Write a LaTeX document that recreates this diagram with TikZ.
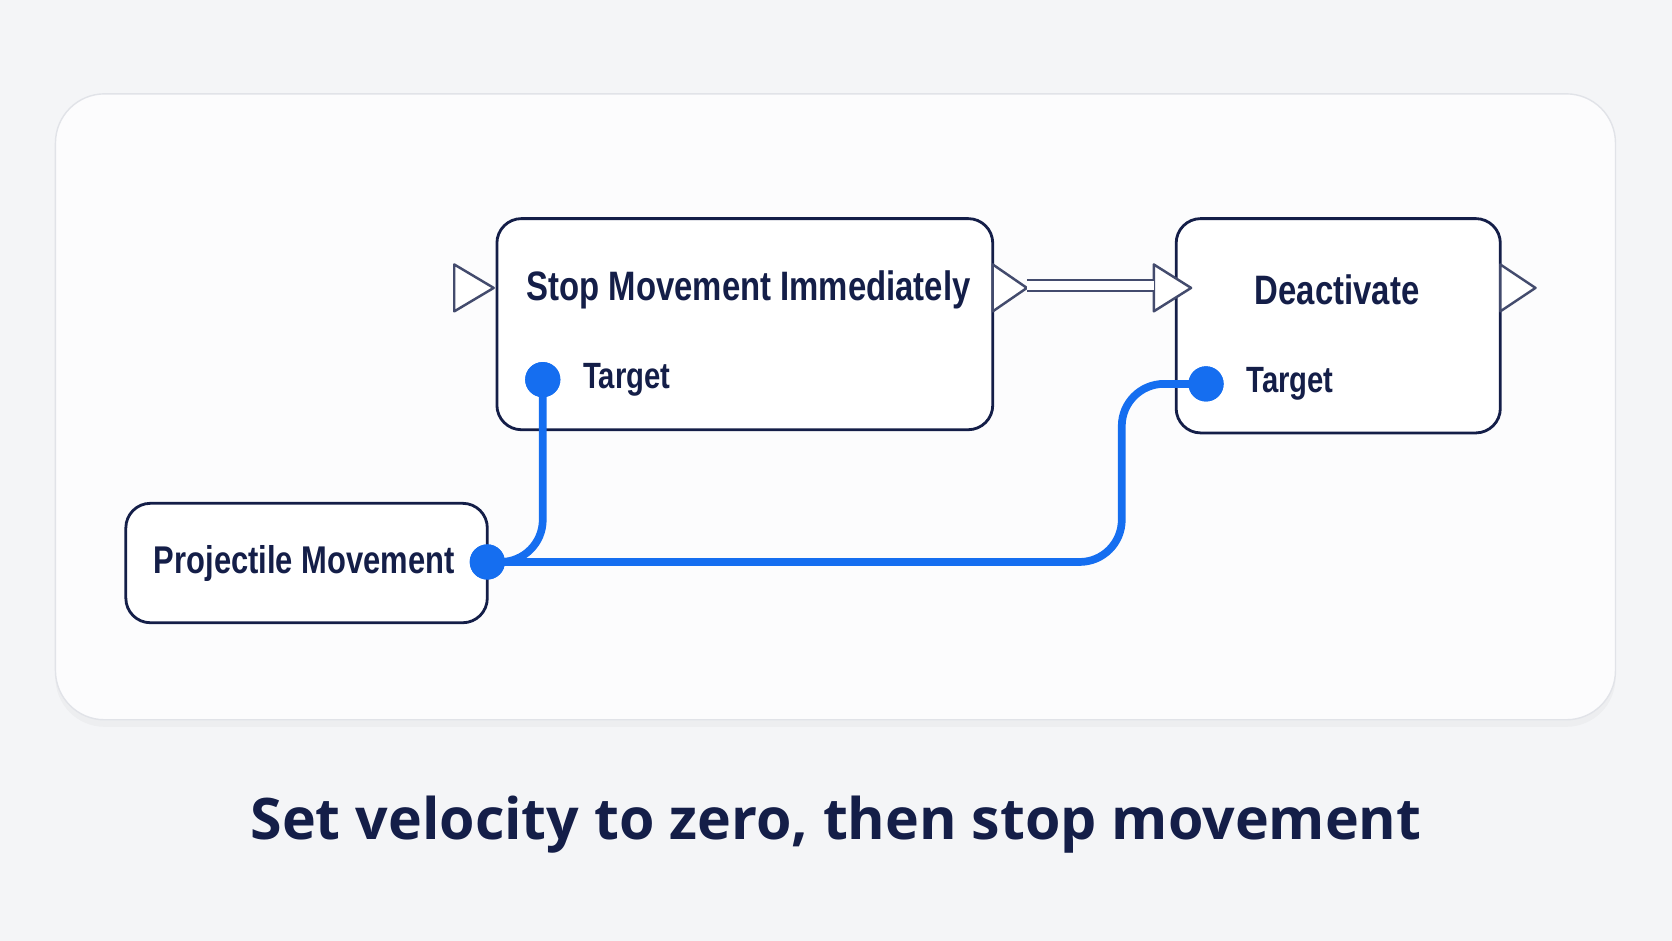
\documentclass[tikz,border=0pt]{standalone}
\usepackage{fontspec}
\setmainfont{Open Sans}
\newfontfamily\nodefont[FakeStretch=0.8]{Liberation Sans}
\usetikzlibrary{positioning, calc, shadows}
\definecolor{bgpage}{RGB}{244,245,247}
\definecolor{navy}{RGB}{20,30,72}
\definecolor{wireblue}{RGB}{21,110,240}
\definecolor{panelline}{RGB}{225,227,232}

\begin{document}
\begin{tikzpicture}[x=0.01066cm, y=-0.01066cm,
    block/.style={draw=navy, line width=0.8pt, fill=white, rounded corners=7pt},
    title/.style={font=\nodefont\fontsize{11.7}{14}\selectfont\bfseries, text=navy},
    pinlabel/.style={font=\nodefont\fontsize{10.4}{12}\selectfont\bfseries, text=navy},
    pin/.style={circle, fill=wireblue, minimum size=10pt, inner sep=0pt},
    wire/.style={draw=wireblue, line width=2.2pt, rounded corners=12pt},
    exectri/.style={draw=navy!80, line width=0.7pt, fill=white, line join=round}
]
    \fill[bgpage] (0,0) rectangle (1568,882);
    \useasboundingbox (0,0) rectangle (1568,882);
    % panel
    \draw[panelline, fill=white!70!bgpage, rounded corners=14pt, drop shadow={opacity=0.06, shadow xshift=0pt, shadow yshift=-2pt}]
        (52,88) rectangle (1515,675);

    % blocks
    \draw[block] (466,205) rectangle (931,403);
    \draw[block] (1103,205) rectangle (1407,406);
    \draw[block] (118,472) rectangle (457,584);
    \node[title] (stop) at (702,272) {Stop Movement Immediately};
    \node[title] (deact) at (1254,272) {Deactivate};
    \node[title, font=\nodefont\fontsize{11}{13}\selectfont\bfseries, anchor=east] (proj) at (438,528) {Projectile Movement};

    % exec triangles
    \draw[exectri] (426,248) -- (463,270) -- (426,292) -- cycle;
    \draw[exectri] (931,248) -- (963,270) -- (931,292) -- cycle;
    \draw[exectri] (1082,248) -- (1117,270) -- (1082,292) -- cycle;
    \draw[exectri] (1407,248) -- (1440,270) -- (1407,292) -- cycle;
    \coordinate (execout) at (963,268);
    \coordinate (execin) at (1082,268);
    \draw[navy!80, line width=0.6pt, double=white, double distance=2.6pt] (execout) -- (execin);

    % pins
    \node[pin] (stoptgt) at (509,356) {};
    \node[pin] (deacttgt) at (1131,360) {};
    \node[pin] (projout) at (457,527) {};
    \node[pinlabel, right=8pt of stoptgt.center, anchor=west] {Target};
    \node[pinlabel, right=8pt of deacttgt.center, anchor=west] {Target};

    % wires
    \draw[wire] (projout.center) -- (509,527) -- (stoptgt.center);
    \draw[wire] (projout.center) -- (1052,527) -- (1052,360) -- (deacttgt.center);
    \node[pin] at (projout) {};
    \node[pin] at (stoptgt) {};
    \node[pin] at (deacttgt) {};

    % caption
    \node[font=\fontsize{16.3}{20}\selectfont\bfseries, text=navy] (caption) at (784,773) {Set velocity to zero, then stop movement};
\end{tikzpicture}
\end{document}
